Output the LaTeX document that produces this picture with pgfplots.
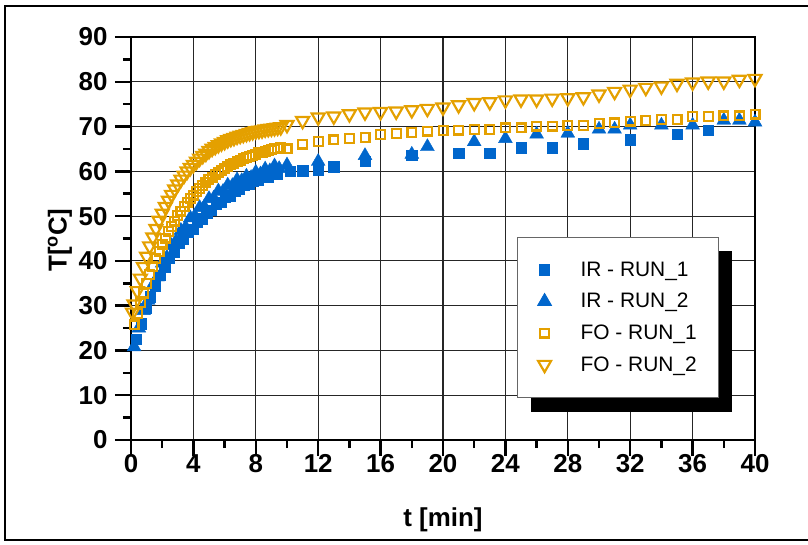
\documentclass[border=0pt]{standalone}
\usepackage{fontspec}
\setmainfont{Liberation Sans}
\usepackage{pgfplots}
\pgfplotsset{compat=1.18}
\usetikzlibrary{shadows}
\definecolor{irblue}{RGB}{0,102,204}
\definecolor{foorange}{RGB}{228,160,0}

\begin{document}
\begin{tikzpicture}
\useasboundingbox (-131bp,-105bp) rectangle (677bp,440bp);
% outer frame (right side falls outside the picture)
\draw[line width=2.5bp] (690bp,434bp) -- (-126bp,434bp) -- (-126bp,-100bp) -- (690bp,-100bp);
\begin{axis}[
  at={(0,0)}, anchor=south west,
  scale only axis, width=624bp, height=403bp,
  xmin=0, xmax=40, ymin=0, ymax=90,
  xtick={0,4,...,40}, ytick={0,10,...,90},
  minor x tick num=1, minor y tick num=1,
  axis line style={line width=2.5bp},
  tick style={line width=2.5bp, black},
  major tick length=16bp, minor tick length=8bp,
  tick align=outside, tick pos=left,
  grid=major, grid style={line width=1.2bp, black!85},
  clip=false,
  /pgf/number format/assume math mode=true,
  ticklabel style={font=\fontsize{26}{26}\selectfont\bfseries},
  yticklabel style={xshift=-4bp},
  xticklabel style={yshift=5bp},
  label style={font=\fontsize{26}{26}\selectfont\bfseries},
  xlabel={t [min]},
  ylabel={T[\textsuperscript{o}C]},
  xlabel style={at={(axis description cs:0.5,-0.199)}, anchor=center},
  ylabel style={at={(axis description cs:-0.114,0.496)}, anchor=center},
  legend cell align=left,
  legend style={at={(0.619,0.104)}, anchor=south west,
    font=\fontsize{21}{21}\selectfont,
    draw=black!60, line width=0.8bp, fill=white,
    inner xsep=20bp, inner ysep=23bp, row sep=11.5bp, column sep=27bp,
    nodes={inner sep=2bp},
    drop shadow={shadow xshift=13bp, shadow yshift=-14bp, fill=black, opacity=1}},
]
% IR - RUN_1
\addplot[only marks, mark=square*, mark size=5.2bp, irblue] coordinates {
  (0.35,22.5) (0.65,26.0) (0.95,29.4) (1.25,32.0) (1.55,34.3) (1.85,36.8)
  (2.15,38.6) (2.45,40.6) (2.75,42.0) (3.05,43.9) (3.35,44.8) (3.65,46.5)
  (3.95,47.1) (4.25,48.7) (4.55,49.4) (4.85,50.8) (5.15,51.3) (5.45,52.6)
  (5.75,53.1) (6.05,54.3) (6.35,54.6) (6.65,55.7) (6.95,56.0) (7.25,56.9)
  (7.55,57.1) (7.85,57.9) (8.15,58.0) (8.45,58.7) (8.75,58.8) (9.05,59.4)
  (9.35,59.4) (10.2,60.0) (11,60.1) (12,60.4) (13,61.0) (15,62.3) (18,63.6)
  (21,64.1) (23,64.1) (25,65.3) (27,65.3) (29,66.2) (32,67.1) (35,68.3) (37,69.2)
};
\addlegendentry{IR - RUN\_1}
% IR - RUN_2
\addplot[only marks, mark=triangle*, mark size=8bp, irblue] coordinates {
  (0.2,20.8) (0.5,25.0) (0.8,28.9) (1.1,31.2) (1.4,34.6) (1.7,36.4)
  (2.0,39.5) (2.3,40.8) (2.6,43.4) (2.9,44.5) (3.2,46.8) (3.5,47.5)
  (3.8,49.6) (4.1,50.0) (4.4,51.9) (4.7,52.1) (5.0,53.9) (5.3,54.0)
  (5.6,55.6) (5.9,55.5) (6.2,56.9) (6.5,56.8) (6.8,58.1) (7.1,57.9)
  (7.4,58.9) (7.7,58.6) (8.0,59.8) (8.3,59.4) (8.6,60.5) (8.9,60.1)
  (9.2,61.2) (9.5,60.6) (10,61.4) (12,62.2) (15,63.5) (18,63.8) (19,65.5)
  (22,66.6) (24,67.3) (26,68.3) (28,68.5) (30,69.4) (31,69.4) (32,70.3)
  (34,70.3) (36,70.3) (38,71.4) (39,71.4) (40,71.0)
};
\addlegendentry{IR - RUN\_2}
% FO - RUN_1
\addplot[only marks, mark=square, mark size=4.4bp, foorange, mark options={line width=2.2bp}] coordinates {
  (0.2,25.7) (0.4,28.2) (0.6,30.6) (0.8,32.8) (1.0,34.9) (1.2,36.9) (1.4,38.8)
  (1.6,40.5) (1.8,42.1) (2.0,43.7) (2.2,45.1) (2.4,46.5) (2.6,47.7) (2.8,48.9)
  (3.0,50.1) (3.2,51.1) (3.4,52.1) (3.6,53.0) (3.8,53.9) (4.0,54.7) (4.2,55.5)
  (4.4,56.2) (4.6,56.9) (4.8,57.6) (5.0,58.2) (5.2,58.7) (5.4,59.3) (5.6,59.8)
  (5.8,60.2) (6.0,60.7) (6.2,61.1) (6.4,61.5) (6.6,61.8) (6.8,62.2) (7.0,62.5)
  (7.2,62.8) (7.4,63.1) (7.6,63.4) (7.8,63.6) (8.0,63.8) (8.2,64.1) (8.4,64.3)
  (8.6,64.5) (8.8,64.7) (9.0,64.8) (9.2,65.0) (9.4,65.1) (9.6,65.3)
  (10,65.0) (11,66.1) (12,66.6) (13,67.0) (14,67.4) (15,67.6) (16,68.2) (17,68.5)
  (18,68.7) (19,69.0) (20,69.1) (21,69.2) (22,69.4) (23,69.4) (24,69.7) (25,69.7)
  (26,70.1) (27,70.1) (28,70.3) (29,70.3) (30,70.7) (31,70.8) (32,71.2) (33,71.3)
  (34,71.6) (35,71.6) (36,72.2) (37,72.3) (38,72.4) (39,72.4) (40,72.8)
};
\addlegendentry{FO - RUN\_1}
% FO - RUN_2
\addplot[only marks, mark=triangle, mark size=7.5bp, foorange, mark options={rotate=180, line width=2.2bp}] coordinates {
  (0.1,28.5) (0.2,30.3) (0.4,33.3) (0.6,36.1) (0.8,38.7) (1.0,41.0) (1.2,43.3)
  (1.4,45.3) (1.6,47.2) (1.8,49.0) (2.0,50.6) (2.2,52.1) (2.4,53.5) (2.6,54.8)
  (2.8,56.0) (3.0,57.1) (3.2,58.2) (3.4,59.1) (3.6,60.0) (3.8,60.8) (4.0,61.5)
  (4.2,62.2) (4.4,62.9) (4.6,63.5) (4.8,64.0) (5.0,64.6) (5.2,65.1) (5.4,65.5)
  (5.6,65.9) (5.8,66.3) (6.0,66.6) (6.2,67.0) (6.4,67.3) (6.6,67.5) (6.8,67.8)
  (7.0,68.0) (7.2,68.2) (7.4,68.4) (7.6,68.6) (7.8,68.8) (8.0,69.0) (8.2,69.1)
  (8.4,69.2) (8.6,69.4) (8.8,69.5) (9.0,69.6) (9.2,69.7) (9.4,69.8) (9.6,69.9)
  (10,70.4) (11,71.3) (12,72.1) (13,72.3) (14,72.8) (15,73.2) (16,73.3) (17,73.4)
  (18,73.7) (19,74.0) (20,74.3) (21,74.8) (22,75.3) (23,75.5) (24,75.9) (25,76.1)
  (26,76.1) (27,76.3) (28,76.4) (29,76.6) (30,77.2) (31,77.8) (32,78.3) (33,78.7)
  (34,79.0) (35,79.6) (36,79.9) (37,80.1) (38,80.1) (39,80.5) (40,80.7)
};
\addlegendentry{FO - RUN\_2}
\end{axis}
\end{tikzpicture}
\end{document}
